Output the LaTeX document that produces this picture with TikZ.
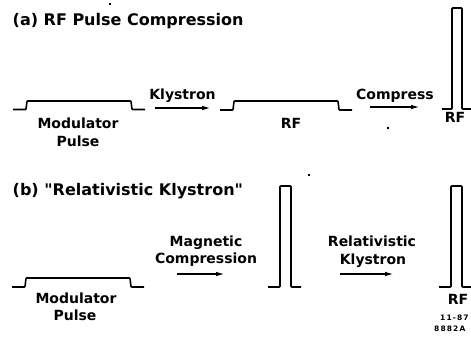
\documentclass[tikz,border=0pt]{standalone}
\usepackage{fontspec}
\setmainfont{DejaVu Sans}[BoldFont={DejaVu Sans Bold},Ligatures=TeXOff]
\usetikzlibrary{arrows.meta}
\begin{document}
\begin{tikzpicture}[x=1pt,y=-1pt,
  pulse/.style={line width=1.6pt,rounded corners=0.8pt},
  flow/.style={line width=1.5pt,-{Latex[length=9pt,width=4.5pt]}},
  ttl/.style={anchor=base west,inner sep=0pt,font=\bfseries\fontsize{16}{18}\selectfont},
  lbl/.style={anchor=base,inner sep=0pt,font=\bfseries\fontsize{14}{16}\selectfont},
  tiny/.style={anchor=base west,inner sep=0pt,font=\bfseries\fontsize{7.5}{9}\selectfont\addfontfeature{LetterSpace=15}},
  speck/.style={fill=black,inner sep=0pt,minimum size=0pt}]
\useasboundingbox (0,0) rectangle (471,338);
\clip (0,0) rectangle (471,338);
% titles
\node[ttl] (ta) at (12.5,25) {(a)\ RF Pulse Compression};
\node[ttl] (tb) at (12.5,195) {(b)\ "Relativistic Klystron"};
% panel (a) pulses
\draw[pulse] (13,109.5) -- (26,109.5) -- (27,101) -- (131,101) -- (132,109.5) -- (145,109.5);
\draw[pulse] (220,110) -- (233,110) -- (234,101) -- (338,101) -- (339,110) -- (352,110);
\draw[pulse] (442,109) -- (452,109) -- (452,8) -- (462,8) -- (462,109) -- (476,109);
% panel (a) labels
\node[lbl] (moda) at (78,128.3) {Modulator};
\node[lbl] (pula) at (78,146) {Pulse};
\node[lbl] (kla) at (182.5,99) {Klystron};
\node[lbl] (rfa) at (291,128) {RF};
\node[lbl] (cmp) at (395,99) {Compress};
\node[lbl] (rfb) at (455,122) {RF};
% panel (a) arrows
\coordinate (a1s) at (155,108); \coordinate (a1e) at (211,108);
\coordinate (a2s) at (370,107); \coordinate (a2e) at (420,107);
\draw[flow] (a1s) -- (a1e);
\draw[flow] (a2s) -- (a2e);
% specks
\node[speck,minimum width=2.5pt,minimum height=2pt] (s1) at (388,128) {};
\node[speck,minimum width=2pt,minimum height=1.2pt] (s2) at (110,4) {};
\node[speck,minimum width=1.2pt,minimum height=1.2pt] (s3) at (309,175) {};
% panel (b) pulses
\draw[pulse] (12,287) -- (25,287) -- (26,278) -- (130,278) -- (131,287) -- (144,287);
\draw[pulse] (268,287) -- (280,287) -- (280,186) -- (291,186) -- (291,287) -- (301,287);
\draw[pulse] (439,287) -- (451,287) -- (451,186) -- (462,186) -- (462,287) -- (476,287);
% panel (b) labels
\node[lbl] (modb) at (76,303) {Modulator};
\node[lbl] (pulb) at (75,320.7) {Pulse};
\node[lbl] (mag) at (206,246) {Magnetic};
\node[lbl] (comp) at (206,263) {Compression};
\node[lbl] (rel) at (372,246.7) {Relativistic};
\node[lbl] (klb) at (373,264) {Klystron};
\node[lbl] (rfc) at (458,304) {RF};
\node[tiny] (n1) at (440,320) {11-87};
\node[tiny] (n2) at (434,331) {8882A};
% panel (b) arrows
\coordinate (b1s) at (177,274); \coordinate (b1e) at (225,274);
\coordinate (b2s) at (340,274); \coordinate (b2e) at (394,274);
\draw[flow] (b1s) -- (b1e);
\draw[flow] (b2s) -- (b2e);
\end{tikzpicture}
\end{document}
